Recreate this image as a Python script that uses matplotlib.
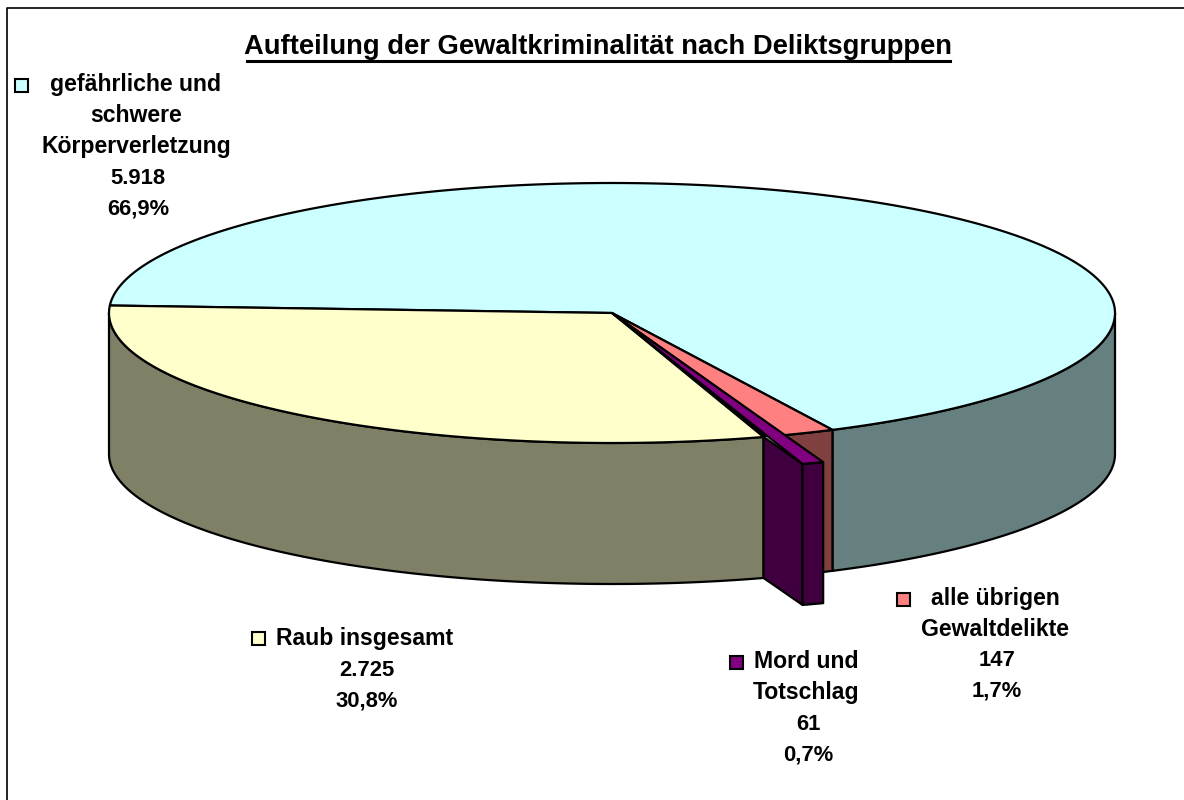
import numpy as np
import matplotlib
matplotlib.use('Agg')
import matplotlib.pyplot as plt
from matplotlib.patches import Polygon, Rectangle

plt.rcParams['font.family'] = ['Liberation Sans', 'DejaVu Sans']

title = 'Aufteilung der Gewaltkriminalität nach Deliktsgruppen'
categories = [['gefährliche und', 'schwere', 'Körperverletzung'],
              ['Raub insgesamt'],
              ['Mord und', 'Totschlag'],
              ['alle übrigen', 'Gewaltdelikte']]
values = [5918, 2725, 61, 147]
value_labels = ['5.918', '2.725', '61', '147']
percent_labels = ['66,9%', '30,8%', '0,7%', '1,7%']
top_colors = ['#CCFFFF', '#FFFFCC', '#800080', '#FF8080']
side_colors = ['#668080', '#808066', '#400040', '#804040']

# pie geometry in pixels
cx, cy = 612, 313
rx, ry = 503, 130
depth = 141
start = 176.7
explode = (39, 27)

fig = plt.figure(figsize=(11.84, 8.00), dpi=100)
ax = fig.add_axes([0, 0, 1, 1])
ax.set_xlim(0, 1184)
ax.set_ylim(800, 0)
ax.axis('off')

# chart border: only left and top fall inside the picture
ax.plot([7, 7, 1184], [800, 8, 8], color='black', lw=1.2)


def arc(t0, t1, dx=0, dy=0):
    t = np.radians(np.linspace(t0, t1, max(2, int(abs(t1 - t0) * 2))))
    return np.column_stack([cx + dx + rx * np.cos(t), cy + dy - ry * np.sin(t)])


def wall(pts):
    lower = pts[::-1] + [0, depth]
    return np.vstack([pts, lower])


# clockwise from the left edge: blue, then red, purple, and yellow back round
total = sum(values)
sweep = [v / total * 360 for v in values]
blue = (start, start - sweep[0])
red = (blue[1], blue[1] - sweep[3])
purple = (red[1], red[1] - sweep[2])
yellow = (purple[1], start - 360)

edge = dict(ec='black', lw=1.6, joinstyle='round')

# outer walls, only the part facing the viewer
ax.add_patch(Polygon(wall(arc(0, blue[1])), fc=side_colors[0], **edge))
ax.add_patch(Polygon(wall(arc(blue[1], red[1])), fc=side_colors[3], **edge))
ax.add_patch(Polygon(wall(arc(yellow[0], -180)), fc=side_colors[1], **edge))

# top faces
apex = np.array([[cx, cy]])
ax.add_patch(Polygon(np.vstack([apex, arc(*blue)]), fc=top_colors[0], **edge))
ax.add_patch(Polygon(np.vstack([apex, arc(*yellow)]), fc=top_colors[1], **edge))
ax.add_patch(Polygon(np.vstack([apex, arc(*red)]), fc=top_colors[3], **edge))
ax.add_patch(Polygon(np.vstack([apex, arc(*purple)]), fc='black', ec='black', lw=0.5))

# exploded purple slice
outer = arc(*purple, *explode)
inner = arc(purple[1], purple[1])[:1]
cut = np.array([inner[0], outer[-1], outer[-1] + [0, depth], inner[0] + [0, depth]])
ax.add_patch(Polygon(cut, fc=side_colors[2], **edge))
ax.add_patch(Polygon(wall(outer), fc=side_colors[2], **edge))
ax.add_patch(Polygon(np.vstack([apex, outer]), fc=top_colors[2], **edge))

# title with underline
ax.text(598.5, 47.5, title, ha='center', va='center', fontsize=19.7, fontweight='bold')
ax.plot([247, 950], [60.5, 60.5], color='black', lw=2.2)

# data labels: centre x, first line y, key x, key y
label_pos = [(136, 85, 21, 85), (365, 639, 258, 638), (806, 662, 736, 662), (995, 598, 903, 599)]
line_h = 31
for i, (lx, ly, kx, ky) in enumerate(label_pos):
    names = categories[i]
    numbers = [value_labels[i], percent_labels[i]]
    for j, s in enumerate(names):
        ax.text(lx, ly + j * line_h, s, ha='center', va='center', fontsize=16.6, fontweight='bold')
    for j, s in enumerate(numbers, len(names)):
        ax.text(lx + 2, ly + j * line_h, s, ha='center', va='center', fontsize=15.8, fontweight='bold')
    ax.add_patch(Rectangle((kx - 6.5, ky - 6.5), 13, 13, fc=top_colors[i], ec='black', lw=1.5))

fig.savefig('out.png', dpi=100)
